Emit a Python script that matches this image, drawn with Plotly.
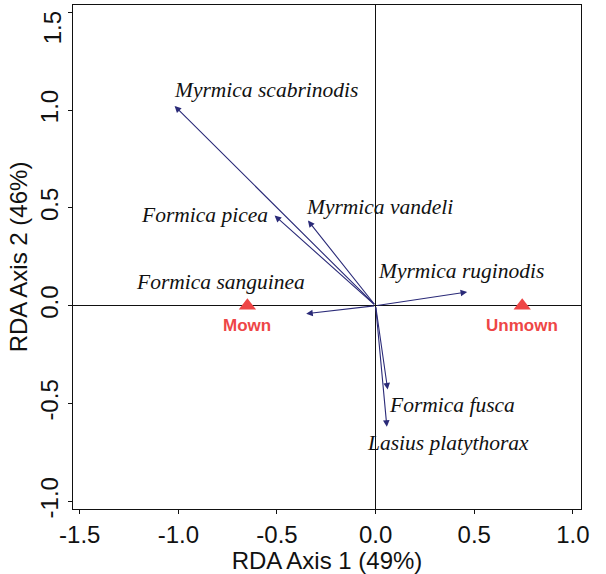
import plotly.graph_objects as go

# ---- data ----
species = ["Myrmica scabrinodis", "Formica picea", "Myrmica vandeli",
           "Myrmica ruginodis", "Formica sanguinea", "Formica fusca",
           "Lasius platythorax"]
species_x = [-1.019, -0.512, -0.343, 0.464, -0.352, 0.061, 0.057]
species_y = [1.021, 0.461, 0.435, 0.070, -0.041, -0.428, -0.619]

treatments = ["Mown", "Unmown"]
treat_x = [-0.65, 0.743]
treat_y = [0.0, 0.0]

x_tickvals = [-1.5, -1.0, -0.5, 0.0, 0.5, 1.0]
x_ticktext = ["-1.5", "-1.0", "-0.5", "0.0", "0.5", "1.0"]
y_tickvals = [-1.0, -0.5, 0.0, 0.5, 1.0, 1.5]
y_ticktext = ["-1.0", "-0.5", "0.0", "0.5", "1.0", "1.5"]

x_title = "RDA Axis 1 (49%)"
y_title = "RDA Axis 2 (46%)"

# ---- layout helpers (label placement) ----
label_pos = {
    "Myrmica scabrinodis": (-0.558, 1.103),
    "Formica picea": (-0.867, 0.462),
    "Myrmica vandeli": (0.022, 0.506),
    "Myrmica ruginodis": (0.433, 0.179),
    "Formica sanguinea": (-0.786, 0.123),
    "Formica fusca": (0.385, -0.506),
    "Lasius platythorax": (0.365, -0.702),
}
treat_label_dy = -0.099

ARROW = "#2a2a78"
RED = "#ee4646"
INK = "#111111"

fig = go.Figure()

fig.add_trace(go.Scatter(
    x=treat_x, y=treat_y, mode="markers",
    marker=dict(symbol="triangle-up", size=15, color=RED, line=dict(width=0)),
    hoverinfo="text", hovertext=treatments, showlegend=False,
))

annotations = []
for name, sx, sy in zip(species, species_x, species_y):
    annotations.append(dict(
        x=sx, y=sy, xref="x", yref="y", ax=0, ay=0, axref="x", ayref="y",
        text="", showarrow=True, arrowhead=2, arrowsize=1.2, arrowwidth=1.1,
        arrowcolor=ARROW, standoff=0, startstandoff=0,
    ))
    lx, ly = label_pos[name]
    annotations.append(dict(
        x=lx, y=ly, xref="x", yref="y", text=name, showarrow=False,
        xanchor="center", yanchor="middle",
        font=dict(family="Liberation Serif", size=21.5, color=INK,
                  style="italic"),
    ))

for name, tx, ty in zip(treatments, treat_x, treat_y):
    annotations.append(dict(
        x=tx, y=ty + treat_label_dy, xref="x", yref="y",
        text="<b>" + name + "</b>", showarrow=False,
        xanchor="center", yanchor="middle",
        font=dict(family="Liberation Sans", size=17, color=RED),
    ))

# top y tick label sits a little lower than its tick (as in the original)
y_ticktext_axis = y_ticktext[:-1] + [""]
annotations.append(dict(
    x=0, xref="paper", y=y_tickvals[-1], yref="y", text=y_ticktext[-1],
    showarrow=False, textangle=-90, xanchor="center", yanchor="middle",
    xshift=-21, yshift=-16,
    font=dict(family="Liberation Sans", size=24, color=INK),
))

fig.update_layout(
    width=606, height=574,
    margin=dict(l=73, r=25, t=5, b=65),
    paper_bgcolor="white", plot_bgcolor="white",
    annotations=annotations,
    font=dict(family="Liberation Sans", size=24, color=INK),
    showlegend=False,
)

fig.update_xaxes(
    range=[-1.534, 1.041], tickvals=x_tickvals, ticktext=x_ticktext,
    showgrid=False, zeroline=True, zerolinecolor=INK, zerolinewidth=1,
    showline=True, linecolor=INK, linewidth=1, mirror=True,
    ticks="outside", ticklen=4, tickcolor=INK, ticklabeloverflow="allow",
    tickfont=dict(size=24), title=dict(text=x_title, font=dict(size=24), standoff=2),
)
fig.update_yaxes(
    range=[-1.039, 1.537], tickvals=y_tickvals, ticktext=y_ticktext_axis,
    showgrid=False, zeroline=True, zerolinecolor=INK, zerolinewidth=1,
    showline=True, linecolor=INK, linewidth=1, mirror=True,
    ticks="outside", ticklen=4, tickcolor=INK, tickangle=-90,
    ticklabeloverflow="allow",
    tickfont=dict(size=24), title=dict(text=y_title, font=dict(size=24), standoff=2),
)

fig.write_html("out.html")
